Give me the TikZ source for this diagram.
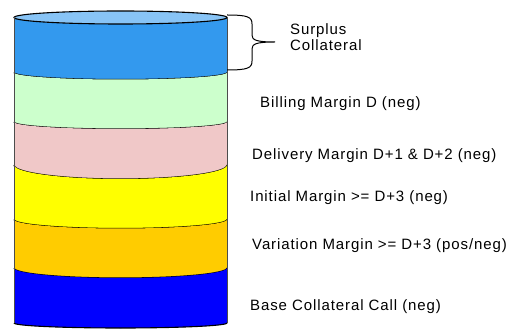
\documentclass[tikz,border=0pt]{standalone}
\usepackage{fontspec}
\setmainfont{Liberation Sans}[LetterSpace=6]
\definecolor{topcap}{HTML}{88C4F6}
\definecolor{surplus}{HTML}{3399EE}
\definecolor{billing}{HTML}{CCFFCC}
\definecolor{delivery}{HTML}{F0C8C8}
\definecolor{initial}{HTML}{FFFF00}
\definecolor{variation}{HTML}{FFCC00}
\definecolor{basecall}{HTML}{0000FF}
\tikzset{
  rim/.style={draw=black, line width=1.1pt},
  side/.style={draw=black!70, line width=1pt},
  label/.style={anchor=west, inner sep=0pt, font=\fontsize{15}{16}\selectfont},
}
% one band of the stack: #1 colour, #2/#3 side height and depth of the upper rim,
% #4/#5 side height and depth of the lower rim
\newcommand{\stackband}[5]{%
  \fill[#1] (14,#2) -- (14,#4)
    arc[start angle=180, end angle=360, x radius=106.5, y radius=#5]
    -- (227,#2)
    arc[start angle=0, end angle=-180, x radius=106.5, y radius=#3] -- cycle;
  \draw[rim] (14,#4) arc[start angle=180, end angle=360, x radius=106.5, y radius=#5];
}
\begin{document}
\begin{tikzpicture}[x=1pt, y=1pt]
\useasboundingbox (0,0) rectangle (521,329);
% bands, top to bottom
\stackband{surplus}{311.5}{6.5}{256.5}{7}
\stackband{billing}{256.5}{7}{207}{7}
\stackband{delivery}{207}{7}{164}{14}
\stackband{initial}{164}{14}{109.5}{9}
\stackband{variation}{109.5}{9}{61}{10}
\stackband{basecall}{61}{10}{6}{5}
% top cap
\filldraw[fill=topcap, rim] (120.5,311.5) ellipse[x radius=106.5, y radius=6.5];
% cylinder walls
\draw[side] (14,311.5) -- (14,6);
\draw[side] (227,311.5) -- (227,6);
% brace over the surplus band
\coordinate (bt) at (227,314);
\coordinate (bb) at (227,259);
\node[label, anchor=west, align=left] (surplus) at (290,291.5) {Surplus\\Collateral};
\coordinate (tip) at (275,287);
\draw[line width=1pt] (bt) .. controls (248,314) and (252,312) .. (252,305) -- (252,294)
  .. controls (252,289) and (256,287) .. (tip)
  .. controls (256,287) and (252,285) .. (252,280) -- (252,268)
  .. controls (252,261) and (248,259) .. (bb);
% band labels
\node[label] (lbill) at (260,225) {Billing Margin D (neg)};
\node[label] (ldel) at (252,173) {Delivery Margin D+1 \& D+2 (neg)};
\node[label] (linit) at (250,131) {Initial Margin >= D+3 (neg)};
\node[label] (lvar) at (252,83) {Variation Margin >= D+3 (pos/neg)};
\node[label] (lbase) at (250,22) {Base Collateral Call (neg)};
\end{tikzpicture}
\end{document}
